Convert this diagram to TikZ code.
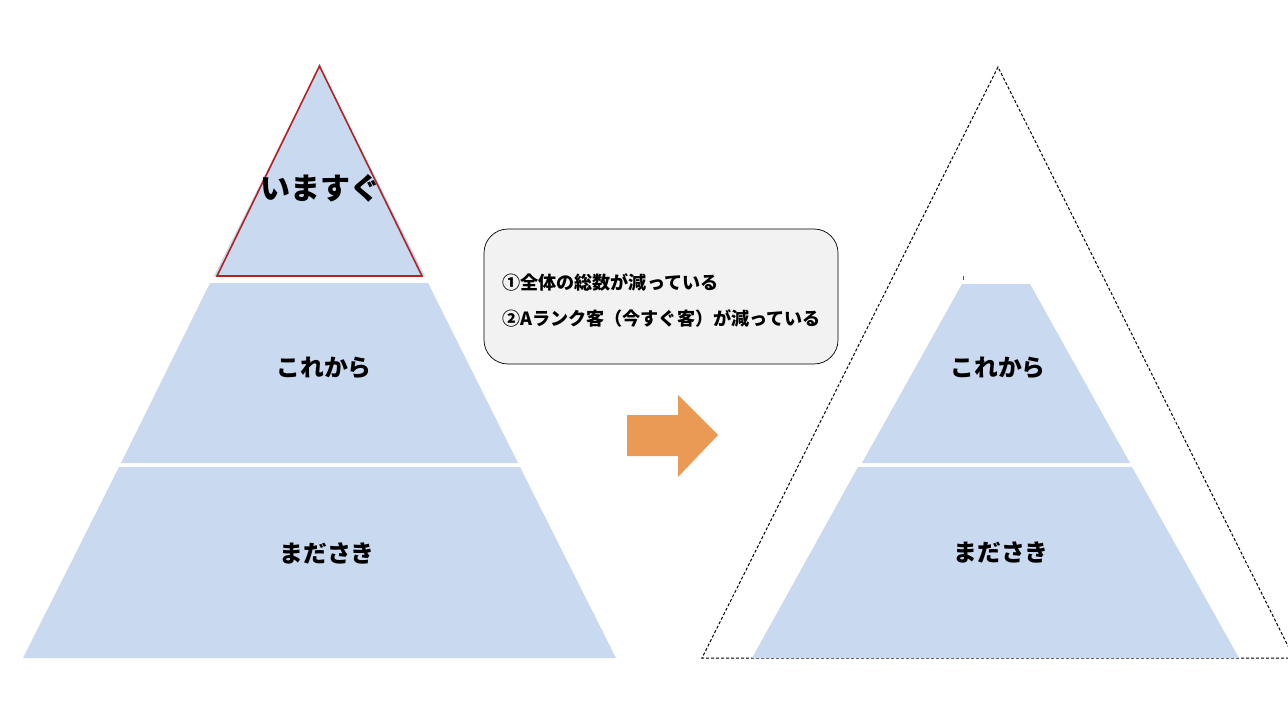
\documentclass[tikz,border=0pt]{standalone}
\usepackage{fontspec}
\newfontfamily\jp{Noto Sans CJK JP}
\definecolor{pyr}{RGB}{201,217,239}
\definecolor{redline}{RGB}{178,34,34}
\definecolor{arrowc}{RGB}{235,154,86}
\definecolor{boxg}{RGB}{242,242,242}
\tikzset{
  layer/.style={fill=pyr,draw=none},
  lbl/.style={font=\jp\bfseries\fontsize{23.8}{26}\selectfont,inner sep=0pt},
  outline/.style={draw=black,dash pattern=on 3pt off 2pt,line width=1pt},
  boxtext/.style={anchor=west,inner sep=0pt,font=\jp\bfseries\fontsize{18.1}{20}\selectfont},
}
\begin{document}
\begin{tikzpicture}[x=1pt,y=-1pt]
\useasboundingbox (0,0) rectangle (1288,714);
% left pyramid
\fill[layer] (23,658) -- (616,658) -- (520,467) -- (119,467) -- cycle;
\fill[layer] (121,463) -- (518,463) -- (428,283) -- (210,283) -- cycle;
\fill[layer] (214,276) -- (425,276) -- (319.5,66) -- cycle;
\draw[redline,line width=1.6pt,line join=miter] (217,276) -- (422,276) -- (319.5,66) -- cycle;
\node[lbl,font=\jp\bfseries\fontsize{30}{34}\selectfont] (now) at (320,188) {いますぐ};
\node[lbl] (next) at (324,368) {これから};
\node[lbl] (later) at (327,553) {まださき};
% text box
\node[draw=black,line width=0.7pt,fill=boxg,rounded corners=24pt,minimum width=354pt,minimum height=135pt,inner sep=0pt] (box) at (661,296.5) {};
\node[boxtext] (l1) at (502,282) {①全体の総数が減っている};
\node[boxtext] (l2) at (502,318) {②Aランク客（今すぐ客）が減っている};
% arrow
\fill[arrowc] (627,415) -- (678,415) -- (678,395) -- (718,435) -- (678,477) -- (678,456) -- (627,456) -- cycle;
% right pyramid
\draw[outline] (1294,658) -- (702,658) -- (998,67) -- (1294,658);
\fill[layer] (752,658) -- (1239,658) -- (1132,467) -- (858,467) -- cycle;
\fill[layer] (862,463) -- (1130,463) -- (1030,284) -- (962,284) -- cycle;
\draw[redline,line width=1pt] (963.5,276) -- (963.5,280);
\node[lbl] (next2) at (998,368) {これから};
\node[lbl] (later2) at (1001,552) {まださき};
\end{tikzpicture}
\end{document}
